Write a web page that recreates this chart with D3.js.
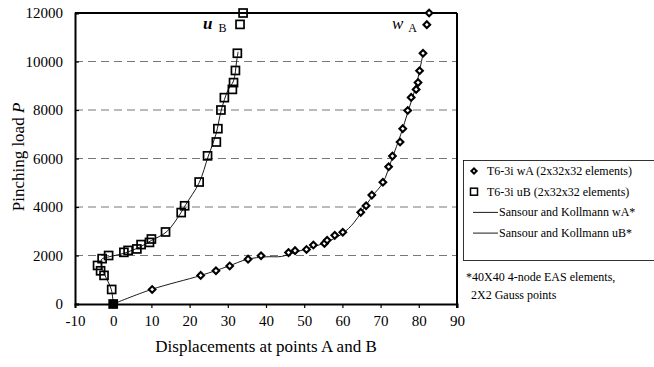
<!DOCTYPE html>
<html><head><meta charset="utf-8">
<script src="https://cdn.jsdelivr.net/npm/d3@7"></script>
<style>body{margin:0;background:#fff}svg{display:block}svg text{font-family:'Liberation Serif','DejaVu Serif','Times New Roman',serif !important}</style>
</head><body><svg id="c" width="654" height="367"></svg>
<script>
// T6-3i uB (squares) [displacement, load]
const uB = [[0,0],[-0.4,600],[-2.4,1180],[-3.3,1370],[-4.1,1590],[-2.9,1870],[-1.2,2000],[2.8,2130],[3.9,2210],[6.2,2270],[7.3,2450],[9.5,2540],[10.0,2680],[13.7,2970],[17.8,3770],[18.7,4050],[22.5,5030],[24.7,6110],[27.0,6680],[27.4,7230],[28.2,8000],[29.1,8510],[31.2,8850],[31.5,9130],[32.0,9630],[32.5,10340],[33.2,11530],[34.0,12000]];
// T6-3i wA (diamonds)
const wA = [[0,0],[10.2,600],[22.9,1180],[26.9,1370],[30.5,1570],[35.3,1850],[38.7,1990],[45.9,2120],[47.6,2200],[50.6,2250],[52.4,2430],[55.3,2500],[56.0,2630],[58.0,2830],[60.1,2960],[64.8,3780],[66.2,4050],[67.7,4490],[70.6,5020],[72.1,5660],[73.1,6100],[75.1,6680],[75.8,7230],[77.1,7980],[78.0,8520],[79.3,8850],[79.8,9130],[80.2,9620],[81.1,10340],[82.1,11520],[82.7,12000]];
// Sansour and Kollmann reference curves
const skW = [[0,0],[10,600],[23,1180],[30,1550],[35,1840],[40,1945],[44,1960],[48,2150],[55,2500],[60,2900],[63,3350],[65,3800],[68,4480],[70.6,5000],[73,6000],[75.3,7000],[77.3,8000],[79.3,9000],[80.7,10000],[81.2,10400]];
const skU = [[0,0],[-0.5,600],[-2.2,1200],[-3.1,1600],[-3.0,1850],[-1.5,1930],[3,2100],[7,2350],[10,2620],[14,2980],[17.8,3780],[19,4100],[22.5,5000],[24.9,6100],[26.9,7000],[28.3,8000],[30,8800],[31.5,9200],[32.3,10000],[32.7,10400]];
const xTicks = [-10,0,10,20,30,40,50,60,70,80,90];
const yTicks = [0,2000,4000,6000,8000,10000,12000];
const legendItems = [
  {type:"diamond", label:"T6-3i wA (2x32x32 elements)"},
  {type:"square", label:"T6-3i uB (2x32x32 elements)"},
  {type:"line", label:"Sansour and Kollmann wA*"},
  {type:"line", label:"Sansour and Kollmann uB*"}
];
const footnote = ["*40X40 4-node EAS elements,", "2X2 Gauss points"];

const FONT = "'Liberation Serif','DejaVu Serif','Times New Roman',serif";
const svg = d3.select("#c");
const x = d3.scaleLinear().domain([-10,90]).range([75,457]);
const y = d3.scaleLinear().domain([0,12000]).range([304,13]);

// gridlines
svg.append("g").selectAll("line").data(yTicks.filter(d=>d>0&&d<12000)).join("line")
  .attr("x1",x(-10)).attr("x2",x(90)).attr("y1",d=>y(d)).attr("y2",d=>y(d))
  .attr("stroke","#777").attr("stroke-width",1).attr("stroke-dasharray","8,5");

// axes
const xa = svg.append("g").attr("transform",`translate(0,${y(0)})`)
  .call(d3.axisBottom(x).tickValues(xTicks).tickSize(4).tickPadding(7).tickFormat(d=>String(d)));
const ya = svg.append("g").attr("transform",`translate(${x(-10)},0)`)
  .call(d3.axisLeft(y).tickValues(yTicks).tickSize(-4).tickPadding(12).tickFormat(d=>String(d)));
[xa,ya].forEach(a=>{a.attr("font-family",FONT).attr("font-size",15);
  a.select(".domain").attr("stroke","#000").attr("stroke-width",2);
  a.selectAll(".tick line").attr("stroke","#000").attr("stroke-width",1.2);
  a.selectAll("text").attr("fill","#000");});
// frame top/right
svg.append("line").attr("x1",x(-10)).attr("x2",x(90)).attr("y1",y(12000)).attr("y2",y(12000)).attr("stroke","#000").attr("stroke-width",2);
svg.append("line").attr("x1",x(90)).attr("x2",x(90)).attr("y1",y(12000)).attr("y2",y(0)+4).attr("stroke","#000").attr("stroke-width",2);

// curves
const line = d3.line().x(d=>x(d[0])).y(d=>y(d[1])).curve(d3.curveCatmullRom.alpha(0.5));
[skW,skU].forEach(dt=>svg.append("path").attr("d",line(dt)).attr("fill","none").attr("stroke","#000").attr("stroke-width",0.9));

// markers
svg.append("g").selectAll("rect").data(uB).join("rect")
  .attr("x",d=>x(d[0])-4).attr("y",d=>y(d[1])-4).attr("width",8).attr("height",8)
  .attr("fill","none").attr("stroke","#000").attr("stroke-width",1.7);
svg.append("g").selectAll("path").data(wA).join("path")
  .attr("transform",d=>`translate(${x(d[0])},${y(d[1])}) rotate(45)`)
  .attr("d",d3.symbol().type(d3.symbolSquare).size(22)())
  .attr("fill","#fff").attr("stroke","#000").attr("stroke-width",2.1);
svg.append("rect").attr("x",x(0)-4).attr("y",y(0)-4).attr("width",8).attr("height",8).attr("fill","#000");

const g0 = svg.append("g").attr("font-family",FONT);
// annotations
const ann1 = g0.append("text").attr("x",203).attr("y",29).attr("font-size",17).attr("font-style","italic").attr("font-weight","bold");
ann1.append("tspan").text("u");
ann1.append("tspan").attr("font-size",12).attr("font-style","normal").attr("font-weight","normal").attr("dx",6).attr("dy",3).text("B");
const ann2 = g0.append("text").attr("x",392).attr("y",29).attr("font-size",17).attr("font-style","italic");
ann2.append("tspan").text("w");
ann2.append("tspan").attr("font-size",12).attr("font-style","normal").attr("dx",5).attr("dy",3).text("A");

// axis titles
g0.append("text").attr("x",266).attr("y",352).attr("text-anchor","middle").attr("font-size",17).text("Displacements at points A and B");
const yt = g0.append("text").attr("transform","translate(24,157) rotate(-90)").attr("text-anchor","middle").attr("font-size",17);
yt.append("tspan").text("Pinching load ");
yt.append("tspan").attr("font-style","italic").text("P");

// legend
g0.append("rect").attr("x",463.5).attr("y",160.5).attr("width",200).attr("height",100).attr("fill","#fff").attr("stroke","#000").attr("stroke-width",0.8);
const lg = g0.append("g").selectAll("g").data(legendItems).join("g").attr("transform",(d,i)=>`translate(0,${171+i*20.7})`);
lg.each(function(d){
  const g = d3.select(this);
  if(d.type==="diamond") g.append("path").attr("transform","translate(474,0) rotate(45)").attr("d",d3.symbol().type(d3.symbolSquare).size(14)()).attr("fill","#fff").attr("stroke","#000").attr("stroke-width",2);
  else if(d.type==="square") g.append("rect").attr("x",470.5).attr("y",-3.5).attr("width",7).attr("height",7).attr("fill","none").attr("stroke","#000").attr("stroke-width",1.5);
  else g.append("line").attr("x1",473).attr("x2",498).attr("y1",0).attr("y2",0).attr("stroke","#000").attr("stroke-width",0.9);
  g.append("text").attr("x",d.type==="line"?499:487).attr("y",4).attr("font-size",12).text(d.label);
});
g0.append("g").selectAll("text").data(footnote).join("text")
  .attr("x",(d,i)=>i===0?466:471).attr("y",(d,i)=>281+i*18).attr("font-size",12).text(d=>d);
</script></body></html>
